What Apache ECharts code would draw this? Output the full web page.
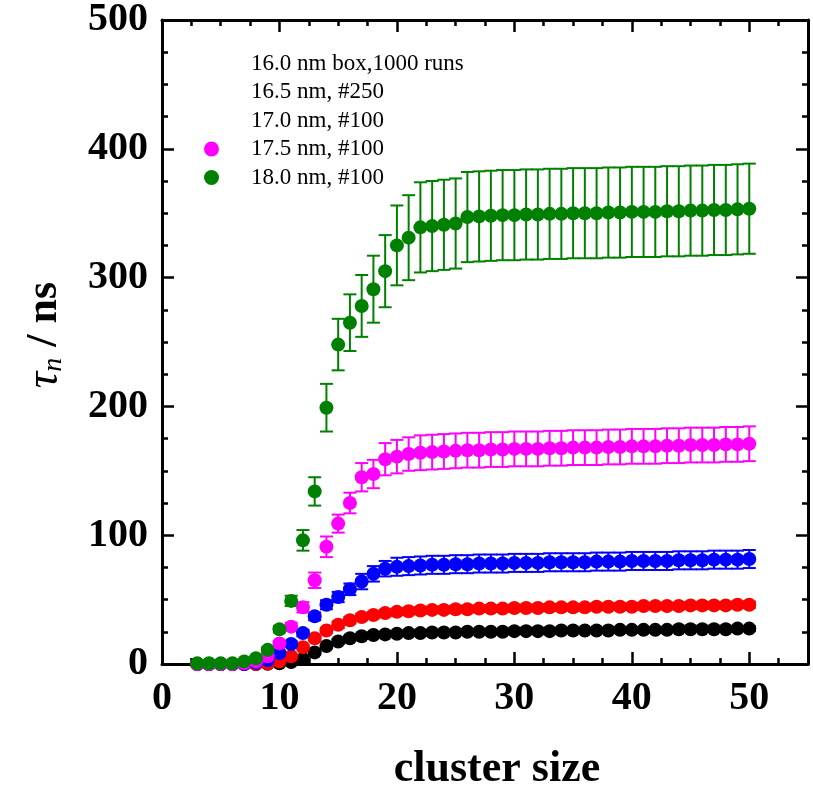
<!DOCTYPE html>
<html><head><meta charset="utf-8">
<script src="https://cdn.jsdelivr.net/npm/echarts@6/dist/echarts.min.js"></script>
<style>html,body{margin:0;padding:0;background:#fff}#c{width:813px;height:786px}</style>
</head><body><div id="c"></div>
<script>
// cluster sizes 3..50
const clusterSize = [3,4,5,6,7,8,9,10,11,12,13,14,15,16,17,18,19,20,21,22,23,24,25,26,27,28,29,30,31,32,33,34,35,36,37,38,39,40,41,42,43,44,45,46,47,48,49,50];

const seriesNames = ['16.0 nm box,1000 runs','16.5 nm, #250','17.0 nm, #100','17.5 nm, #100','18.0 nm, #100'];
const seriesColors = ['#000000','#ff0000','#0000ff','#ff00ff','#008000'];

const tau160 = [0,0,0,0,0,0,0.2,0.5,1.5,4,9,14,17.5,20,21.5,22.5,23,23.5,
  24,24,24.5,24.5,24.5,25,25,25,25,25.5,
  25.5,25.5,25.5,26,26,26,26,26,26.5,26.5,
  26.5,26.5,26.5,27,27,27,27,27,27.5,27.5];
const err160 = [0.3,0.3,0.3,0.3,0.3,0.3,0.3,0.3,1,1,1.5,1.5,
  2,2,2,2,2,2,2,2,2,2,2,2,2,2,2,2,2,2,2,2,2,2,2,2,2,2,2,2,2,2,2,2,2,2,2,2];

const tau165 = [0,0,0,0,0,0,0.5,2,6,13,20,26,30.5,34,36.5,38,39.5,40.5,
  41,41.5,42,42,42.5,42.5,43,43,43,43.5,
  43.5,43.5,44,44,44,44,44.5,44.5,44.5,44.5,
  45,45,45,45,45.5,45.5,45.5,45.5,46,46];
const err165 = [0.3,0.3,0.3,0.3,0.3,0.3,0.3,0.3,1,1.5,2,2,
  2.5,2.5,2.5,2.5,2.5,2.5,2.5,2.5,2.5,2.5,2.5,2.5,2.5,2.5,2.5,2.5,2.5,2.5,2.5,2.5,2.5,2.5,2.5,2.5,2.5,2.5,2.5,2.5,2.5,2.5,2.5,2.5,2.5,2.5,2.5,2.5];

const tau170 = [0,0,0,0,0,1,3,8.5,15.5,24,37,46,52,58,64,70,74,75.5,
  76,76.5,77,77,77.5,77.5,78,78,78,78.5,
  78.5,78.5,79,79,79,79,79.5,79.5,79.5,80,
  80,80,80,80.5,80.5,80.5,81,81,81,81.5];
const err170 = [0.5,0.5,0.5,0.5,0.5,0.5,0.5,1.5,2,2.5,3,3.5,4,4.5,6,6,6,7,
  7,7,7,7,7,7,7,7,7,7,7,7,7,7,7,7,7,7,7,7,7,7,7,7,7,7,7,7,7,7];

const tau175 = [0,0,0,0,0.5,2,6,16,29,44,65,91,109,125,145,147.5,159,161,
  163,164,164.5,165,165.5,166,166,166.5,166.5,167,
  167,167,167.5,167.5,168,168,168,168.5,168.5,169,
  169,169,169.5,169.5,170,170,170,170.5,170.5,171];
const err175 = [0.5,0.5,0.5,0.5,0.5,0.5,0.5,2,3,4,6,8,7,8,11,11,12.5,13,
  13,13.5,13.5,13.5,13.5,13.5,13.5,13.5,13.5,13.5,13.5,13.5,13.5,13.5,13.5,13.5,13.5,13.5,13.5,13.5,13.5,13.5,13.5,13.5,13.5,13.5,13.5,13.5,13.5,13.5];

const tau180 = [0.5,0.5,0.5,0.5,2,4.5,11,27,49,96,134,199,248,265,278,291,305,325,331,339,340,341,342,
  347,347.5,348,348.5,348.5,349,349,349.5,349.5,350,350,350,350.5,350.5,351,351,351,351.5,351.5,352,352,352.5,352.5,353,353.5];
const err180 = [1,1,1,1,1,1.5,2,2.5,4,8,11,18.5,20,22,24,26,28,31,33,35,35,35,35,
  35,35,35,35,35,35,35,35,35,35,35,35,35,35,35,35,35,35,35,35,35,35,35,35,35];

const yTicks = [0,100,200,300,400,500];
const xTicks = [0,10,20,30,40,50];

const allVals = [tau160,tau165,tau170,tau175,tau180];
const allErrs = [err160,err165,err170,err175,err180];

function errSeries(idx){
  const vals = allVals[idx], errs = allErrs[idx], color = seriesColors[idx];
  return {
    type:'custom', name: seriesNames[idx] + ' err', silent:true,
    xAxisIndex:0, yAxisIndex:0,
    data: clusterSize.map((x,i)=>[x, vals[i]-errs[i], vals[i]+errs[i]]),
    encode:{x:0, y:[1,2]},
    renderItem:(params, api)=>{
      const x = api.value(0);
      const lo = api.coord([x, api.value(1)]);
      const hi = api.coord([x, api.value(2)]);
      const hw = 6.5;
      const st = {stroke:color, lineWidth:2};
      return {type:'group', children:[
        {type:'line', shape:{x1:lo[0],y1:lo[1],x2:hi[0],y2:hi[1]}, style:st},
        {type:'line', shape:{x1:lo[0]-hw,y1:lo[1],x2:lo[0]+hw,y2:lo[1]}, style:st},
        {type:'line', shape:{x1:hi[0]-hw,y1:hi[1],x2:hi[0]+hw,y2:hi[1]}, style:st}
      ]};
    }
  };
}
function ptSeries(idx){
  return {
    type:'scatter', name: seriesNames[idx], xAxisIndex:0, yAxisIndex:0,
    symbol:'circle', symbolSize:14,
    itemStyle:{color:seriesColors[idx], opacity:1},
    data: clusterSize.map((x,i)=>[x, allVals[idx][i]])
  };
}
const series = [];
for (let i=0;i<5;i++){ series.push(errSeries(i)); series.push(ptSeries(i)); }

const axisLineStyle = {color:'#000', width:3};
const labelFont = {fontFamily:'Liberation Serif', fontWeight:'bold', color:'#000'};

function xAx(pos, major, showLabel){
  return {
    type:'value', position:pos, min:0, max:55, interval: major?10:2.5,
    axisLine:{show:major, onZero:false, lineStyle:axisLineStyle},
    axisTick:{show:true, inside:true, length: major?12:6, lineStyle:{color:'#000', width:2.5}},
    axisLabel:{show:showLabel, showMaxLabel:false, margin:15, fontSize:40, ...labelFont,
      formatter:(v)=> xTicks.includes(v) ? String(v) : ''},
    splitLine:{show:false}
  };
}
function yAx(pos, showLabel){
  return {
    type:'value', position:pos, min:0, max:500, interval:100,
    axisLine:{show:true, onZero:false, lineStyle:axisLineStyle},
    axisTick:{show:true, inside:true, length:12, lineStyle:{color:'#000', width:2.5}},
    minorTick:{show:true, splitNumber:4, length:6, lineStyle:{color:'#000', width:2.5}},
    axisLabel:{show:showLabel, margin:14, fontSize:40, ...labelFont,
      formatter:(v)=> yTicks.includes(v) ? String(v) : ''},
    splitLine:{show:false}
  };
}

const chart = echarts.init(document.getElementById('c'), null, {renderer:'canvas'});
chart.setOption({
  animation:false,
  backgroundColor:'#fff',
  grid:{left:162, right:5, top:20, bottom:122, containLabel:false},
  xAxis:[xAx('bottom',true,true), xAx('bottom',false,false), xAx('top',true,false), xAx('top',false,false)],
  yAxis:[yAx('left',true), yAx('right',false)],
  legend:{
    orient:'vertical', left:199, top:47, itemWidth:15, itemHeight:15, itemGap:5.5,
    selectedMode:false,
    data:[
      {name:seriesNames[0], itemStyle:{opacity:0}},
      {name:seriesNames[1], itemStyle:{opacity:0}},
      {name:seriesNames[2], itemStyle:{opacity:0}},
      {name:seriesNames[3], icon:'circle'},
      {name:seriesNames[4], icon:'circle'}
    ],
    textStyle:{fontFamily:'Liberation Serif', fontSize:23, color:'#000', padding:[0,0,0,27]}
  },
  graphic:[
    {type:'text', x:45, y:335, rotation:Math.PI/2,
      style:{text:'{t|τ}{s|n}{b| / ns}', textAlign:'center', textVerticalAlign:'middle',
        rich:{
          t:{fontFamily:'Liberation Serif', fontStyle:'italic', fontSize:46, fill:'#000'},
          s:{fontFamily:'Liberation Serif', fontStyle:'italic', fontSize:28, fill:'#000', padding:[18,0,0,0]},
          b:{fontFamily:'Liberation Serif', fontWeight:'bold', fontSize:44, fill:'#000'}
        }}},
    {type:'text', x:497, y:770,
      style:{text:'cluster size', textAlign:'center', textVerticalAlign:'middle',
        font:'bold 44px "Liberation Serif"', fill:'#000'}}
  ],
  series:series
});
</script>
</body></html>
